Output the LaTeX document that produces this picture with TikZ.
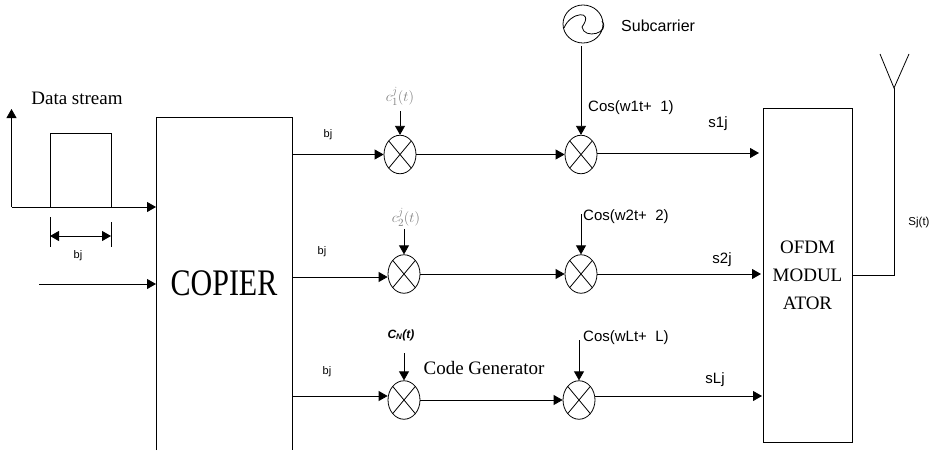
\documentclass[tikz,border=0pt]{standalone}
\usepackage{fontspec}
\setmainfont{Liberation Serif}
\setsansfont{Liberation Sans}
\usetikzlibrary{arrows.meta,shapes.geometric,positioning}
\tikzset{
	sig/.style={-{Triangle[length=9pt,width=10pt]},line width=0.8pt},
	wire/.style={line width=0.8pt},
	mixer/.style={draw,ellipse,minimum width=32pt,minimum height=38.5pt,inner sep=0pt,line width=0.8pt,
		path picture={
			\draw[line width=0.8pt] (path picture bounding box.north west) -- (path picture bounding box.south east);
			\draw[line width=0.8pt] (path picture bounding box.north east) -- (path picture bounding box.south west);
		}},
	lab/.style={font=\sffamily\fontsize{11}{13}\selectfont,inner sep=0pt},
	slab/.style={font=\sffamily\fontsize{15}{17}\selectfont,inner sep=0pt},
	rlab/.style={font=\rmfamily\fontsize{19}{21}\selectfont,inner sep=0pt},
	clab/.style={font=\fontsize{15}{17}\selectfont,text=gray,inner sep=0pt}
}
\begin{document}
\begin{tikzpicture}[x=1pt,y=-1pt]
	\useasboundingbox (0,0) rectangle (931,450);
	% copier, sides run off below
	\coordinate (copA) at (156,117);
	\coordinate (copB) at (292,117);
	\coordinate (copC) at (156,450);
	\coordinate (copD) at (292,450);
	\draw[wire] (copC) -- (copA) -- (copB) -- (copD);
	\node[font=\fontsize{30}{32}\selectfont,inner sep=0pt] (copier) at (224,283) {\scalebox{1}[1.25]{COPIER}};
	% modulator
	\node[draw,wire,minimum width=89pt,minimum height=334pt,inner sep=0pt] (ofdm) at (807.5,275) {};
	\node[font=\fontsize{19}{28}\selectfont,inner sep=0pt,align=center] (ofdmtxt) at (ofdm.center) {OFDM\\MODUL\\ATOR};
	% mixers
	\node[mixer] (m11) at (400,154.5) {};
	\node[mixer] (m12) at (581,154.5) {};
	\node[mixer] (m21) at (404,274) {};
	\node[mixer] (m22) at (581,274) {};
	\node[mixer] (m31) at (404,400) {};
	\node[mixer] (m32) at (579,400) {};
	% pulse and axes
	\coordinate (org) at (11.5,207);
	\coordinate (top) at (11.5,109);
	\coordinate (pa) at (50,207);
	\coordinate (pb) at (50,133);
	\coordinate (pc) at (111,133);
	\coordinate (pd) at (111,207);
	\draw[sig] (org) -- (top);
	\draw[sig] (org) -- (org -| copA);
	\draw[wire] (pa) -- (pb) -- (pc) -- (pd);
	\coordinate (wa) at (50,236);
	\coordinate (wb) at (111,236);
	\draw[wire] (50,217) -- (50,247);
	\draw[wire] (111,222) -- (111,247);
	\draw[{Triangle[length=9pt,width=10pt]}-{Triangle[length=9pt,width=10pt]},wire] (wa) -- (wb);
	\node[lab] (bw) at (78,256) {bj};
	\node[rlab] (data) at (77,98) {Data stream};
	\coordinate (inp) at (39,284);
	\draw[sig] (inp) -- (inp -| copA);
	% first branch
	\coordinate (st1) at (292,154.5);
	\coordinate (c1a) at (400,111);
	\coordinate (ou1) at (759,153);
	\draw[sig] (st1) -- (m11);
	\draw[sig] (m11) -- (m12);
	\draw[sig] (m12.east |- ou1) -- (ou1);
	\node[lab] (b1) at (328,135) {bj};
	\node[clab] (c1) at (400,96) {$c_1^j(t)$};
	\draw[sig] (c1a) -- (m11);
	\node[draw,ellipse,minimum width=40pt,minimum height=38pt,inner sep=0pt,wire] (osc) at (583,24) {};
	\draw[wire] ([shift={(-19,4)}]osc.center) .. controls +(6,-16) and +(13,-18) .. ([shift={(-1,3)}]osc.center)
		.. controls +(2,13) and +(9,12) .. ([shift={(19,-3)}]osc.center);
	\node[font=\sffamily\fontsize{16}{18}\selectfont,inner sep=0pt,anchor=west] (sub) at (621,26) {Subcarrier};
	\coordinate (oscd) at (581,46);
	\draw[sig] (oscd) -- (m12);
	\node[slab,anchor=west] (cos1) at (588,108) {Cos(w1t+\ \ 1)};
	\node[slab] (s1) at (718,124) {s1j};
	% second branch
	\coordinate (st2) at (292,277);
	\coordinate (c2a) at (404,229);
	\coordinate (cs2) at (581,214);
	\coordinate (ou2) at (761,274);
	\draw[sig] (st2) -- (m21.west |- st2);
	\draw[sig] (m21) -- (m22);
	\draw[sig] (m22) -- (ou2);
	\node[lab] (b2) at (322,252) {bj};
	\node[clab] (c2) at (406,217) {$c_2^j(t)$};
	\draw[sig] (c2a) -- (m21);
	\draw[sig] (cs2) -- (m22);
	\node[slab,anchor=west] (cos2) at (583,217) {Cos(w2t+\ \ 2)};
	\node[slab] (s2) at (722,260) {s2j};
	% last branch
	\coordinate (st3) at (292,396);
	\coordinate (c3a) at (404,353);
	\coordinate (cs3) at (579,340);
	\coordinate (ou3) at (762,396);
	\draw[sig] (st3) -- (m31.west |- st3);
	\draw[sig] (m31) -- (m32);
	\draw[sig] (m32.east |- ou3) -- (ou3);
	\node[lab] (b3) at (327,372) {bj};
	\node[font=\sffamily\bfseries\itshape\fontsize{12}{14}\selectfont,inner sep=0pt] (cn) at (401,335) {C\textsubscript{N}(t)};
	\draw[sig] (c3a) -- (m31);
	\node[rlab] (code) at (484,368) {Code Generator};
	\draw[sig] (cs3) -- (m32);
	\node[slab,anchor=west] (cosl) at (583,338) {Cos(wLt+\ \ L)};
	\node[slab] (sl) at (715,380) {sLj};
	% antenna
	\coordinate (ant) at (894,88);
	\coordinate (antl) at (880,54);
	\coordinate (antr) at (909,54);
	\draw[wire] (ofdm.east) -| (ant);
	\draw[wire] (antl) -- (ant) -- (antr);
	\node[lab,font=\sffamily\fontsize{11.5}{13}\selectfont] (sjt) at (919,223) {Sj(t)};
\end{tikzpicture}
\end{document}
